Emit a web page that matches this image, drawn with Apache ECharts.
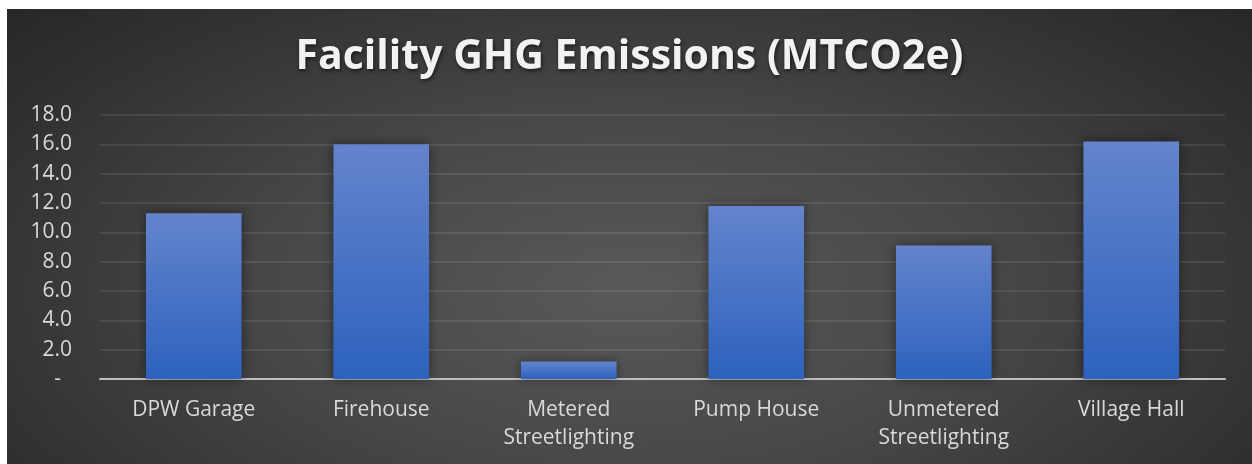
<!DOCTYPE html>
<html>
<head>
<meta charset="utf-8">
<script src="https://cdn.jsdelivr.net/npm/echarts@6/dist/echarts.min.js"></script>
<style>
html,body{margin:0;padding:0;background:#ffffff;width:1252px;height:464px;overflow:hidden;}
#chart{position:absolute;left:7px;top:9px;width:1245px;height:455px;
background:radial-gradient(ellipse 70% 95% at 50% 62%, #595959 0%, #474747 42%, #2f2f2f 82%, #262626 100%);}
</style>
</head>
<body>
<div id="chart"></div>
<script>
const categories = ["DPW Garage", "Firehouse", "Metered\nStreetlighting", "Pump House", "Unmetered\nStreetlighting", "Village Hall"];
const emissions = [11.3, 16.0, 1.2, 11.8, 9.1, 16.2];
const titleText = "Facility GHG Emissions (MTCO2e)";

const chart = echarts.init(document.getElementById('chart'), null, {renderer: 'canvas'});
chart.setOption({
  backgroundColor: 'transparent',
  animation: false,
  title: {
    text: titleText,
    left: 'center',
    top: 23,
    textStyle: {
      color: '#f2f2f2',
      fontFamily: 'Open Sans',
      fontWeight: 'bold',
      fontSize: 41,
      textShadowColor: 'rgba(0,0,0,0.6)',
      textShadowBlur: 4,
      textShadowOffsetX: 1,
      textShadowOffsetY: 2
    }
  },
  grid: {left: 93, right: 27, top: 106, bottom: 85, containLabel: false},
  xAxis: {
    type: 'category',
    data: categories,
    axisLine: {show: true, lineStyle: {color: '#bfbfbf', width: 2}},
    axisTick: {show: false},
    axisLabel: {color: '#d9d9d9', fontFamily: 'Open Sans', fontSize: 21, margin: 17, lineHeight: 28, interval: 0}
  },
  yAxis: {
    type: 'value',
    min: 0, max: 18, interval: 2,
    axisLine: {show: false},
    axisTick: {show: false},
    splitLine: {lineStyle: {color: 'rgba(255,255,255,0.12)', width: 1.5}},
    axisLabel: {
      color: '#d9d9d9', fontFamily: 'Open Sans', fontSize: 21, margin: 28,
      formatter: v => v === 0 ? '-  ' : v.toFixed(1)
    }
  },
  series: [{
    type: 'bar',
    data: emissions,
    barWidth: '51%',
    itemStyle: {
      color: new echarts.graphic.LinearGradient(0, 0, 0, 1, [
        {offset: 0, color: '#6484cc'},
        {offset: 1, color: '#2d62be'}
      ]),
      shadowColor: 'rgba(0,0,0,0.45)',
      shadowBlur: 10
    }
  }]
});
</script>
</body>
</html>
